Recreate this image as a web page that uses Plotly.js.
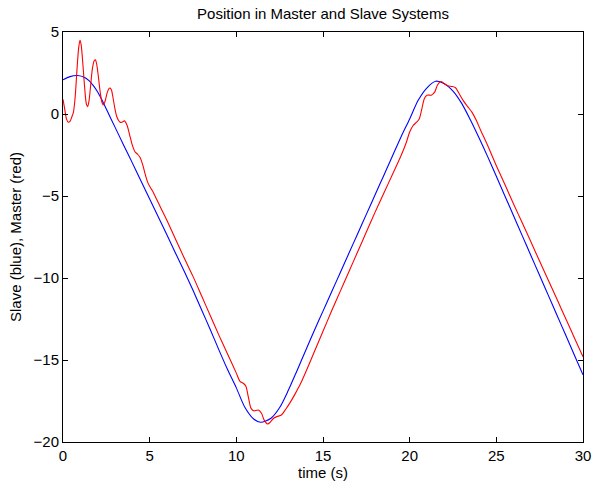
<!DOCTYPE html>
<html>
<head>
<meta charset="utf-8">
<script src="https://cdn.plot.ly/plotly-3.0.1.min.js"></script>
<style>html,body{margin:0;padding:0;background:#fff;}#chart{width:594px;height:488px;}</style>
</head>
<body>
<div id="chart"></div>
<script>
// Slave (blue) position samples
const slaveTime = [0, 0.4, 0.85, 1.25, 1.5, 1.75, 2.0, 2.25, 2.5, 3, 3.5, 4, 4.5, 5, 5.5, 6, 6.5, 7, 7.5, 8, 8.5, 9, 9.5, 10, 10.5, 11, 11.4, 12, 12.5, 13, 13.5, 14, 14.5, 15, 15.5, 16, 16.5, 17, 17.5, 18, 18.5, 19, 19.5, 20, 20.5, 21, 21.5, 22, 22.5, 23, 23.5, 24, 24.5, 25, 25.5, 26, 26.5, 27, 27.5, 28, 28.5, 29, 29.5, 30];
const slavePos = [2.08, 2.28, 2.35, 2.23, 2.03, 1.73, 1.34, 0.85, 0.3, -0.8, -1.9, -2.98, -4.08, -5.18, -6.28, -7.38, -8.5, -9.6, -10.75, -11.95, -13.15, -14.4, -15.6, -16.7, -17.9, -18.6, -18.8, -18.55, -17.9, -16.85, -15.65, -14.42, -13.2, -12.02, -10.84, -9.66, -8.48, -7.3, -6.12, -4.94, -3.76, -2.58, -1.4, -0.3, 0.85, 1.6, 2.0, 1.85, 1.4, 0.65, -0.35, -1.45, -2.6, -3.8, -5.01, -6.22, -7.43, -8.64, -9.85, -11.06, -12.27, -13.48, -14.69, -15.9];

// Master (red) position samples
const masterTime = [0, 0.1, 0.2, 0.3, 0.4, 0.5, 0.6, 0.7, 0.8, 0.9, 0.98, 1.05, 1.15, 1.25, 1.35, 1.42, 1.5, 1.6, 1.7, 1.8, 1.87, 1.95, 2.05, 2.15, 2.25, 2.33, 2.42, 2.55, 2.65, 2.72, 2.8, 2.9, 3.0, 3.1, 3.2, 3.3, 3.4, 3.55, 3.7, 3.85, 4.0, 4.15, 4.3, 4.45, 4.6, 4.75, 4.9, 5.05, 5.2, 5.4, 5.7, 6, 6.5, 7, 7.5, 8, 8.5, 9, 9.5, 10, 10.21, 10.4, 10.55, 10.7, 10.85, 11.0, 11.27, 11.45, 11.6, 11.8, 11.95, 12.15, 12.35, 12.6, 12.85, 13.1, 13.4, 13.68, 14, 14.5, 15, 15.5, 16, 16.5, 17, 17.5, 18, 18.5, 19, 19.5, 19.8, 20.0, 20.2, 20.4, 20.55, 20.7, 20.85, 21.0, 21.25, 21.45, 21.6, 21.8, 22.0, 22.2, 22.45, 22.65, 22.85, 23.1, 23.35, 23.6, 23.85, 24.1, 24.45, 25, 25.5, 26, 26.5, 27, 27.5, 28, 28.5, 29, 29.5, 30];
const masterPos = [0.9, 0.3, -0.3, -0.5, -0.45, -0.2, 0.1, 1.0, 2.6, 4.0, 4.5, 4.2, 3.0, 1.6, 0.6, 0.45, 0.8, 1.8, 2.8, 3.25, 3.3, 3.0, 2.2, 1.3, 0.7, 0.55, 0.75, 1.3, 1.55, 1.58, 1.45, 0.9, 0.3, -0.15, -0.38, -0.5, -0.5, -0.42, -0.7, -1.3, -1.9, -2.3, -2.45, -2.65, -3.1, -3.7, -4.2, -4.5, -4.75, -5.2, -5.85, -6.5, -7.65, -8.8, -9.9, -11.1, -12.3, -13.5, -14.65, -15.8, -16.3, -16.42, -16.6, -17.3, -17.95, -18.1, -18.05, -18.25, -18.65, -18.9, -18.8, -18.55, -18.45, -18.35, -18.0, -17.6, -17.05, -16.5, -15.75, -14.5, -13.25, -12.0, -10.8, -9.6, -8.4, -7.2, -6.0, -4.85, -3.7, -2.55, -1.75, -1.1, -0.7, -0.5, -0.3, 0.3, 0.95, 1.15, 1.15, 1.35, 1.75, 1.98, 1.85, 1.72, 1.68, 1.6, 1.25, 0.8, 0.45, 0.1, -0.4, -1.0, -1.8, -3.15, -4.32, -5.5, -6.65, -7.81, -8.98, -10.14, -11.3, -12.47, -13.64, -14.8];

const xTicks = [0, 5, 10, 15, 20, 25, 30];
const yTicks = [-20, -15, -10, -5, 0, 5];

const font = "'Liberation Sans', Arial, Helvetica, sans-serif";

const traces = [
  {x: slaveTime, y: slavePos, type: 'scatter', mode: 'lines', name: 'Slave',
   line: {color: '#0000ff', width: 1.1, shape: 'spline', smoothing: 0.8}},
  {x: masterTime, y: masterPos, type: 'scatter', mode: 'lines', name: 'Master',
   line: {color: '#ff0000', width: 1.1, shape: 'spline', smoothing: 0.8}}
];

const axisCommon = {
  showgrid: false, zeroline: false, showline: true, mirror: 'ticks',
  linecolor: '#000', linewidth: 1, ticks: 'inside', ticklen: 5, tickwidth: 1,
  tickcolor: '#000', tickfont: {family: font, size: 15, color: '#000'}
};

const layout = {
  width: 594, height: 488,
  margin: {l: 63, r: 11, t: 32, b: 46},
  paper_bgcolor: '#fff', plot_bgcolor: '#fff',
  showlegend: false,
  title: {text: 'Position in Master and Slave Systems', font: {family: font, size: 15, color: '#000'},
          x: 0.5, xref: 'paper', y: 0.971, yref: 'container', yanchor: 'middle'},
  xaxis: Object.assign({}, axisCommon, {range: [0, 30], tickvals: xTicks, ticktext: xTicks.map(String),
          title: {text: 'time (s)', font: {family: font, size: 15, color: '#000'}, standoff: 1}}),
  yaxis: Object.assign({}, axisCommon, {range: [-20, 5], tickvals: yTicks,
          title: {text: 'Slave (blue), Master (red)', font: {family: font, size: 15, color: '#000'}, standoff: 8}})
};

Plotly.newPlot('chart', traces, layout, {displayModeBar: false, staticPlot: true});
</script>
</body>
</html>
